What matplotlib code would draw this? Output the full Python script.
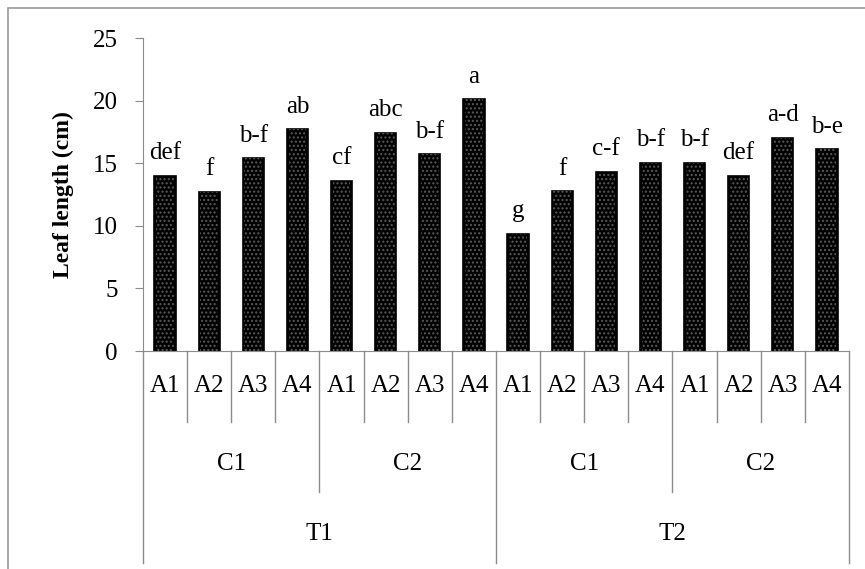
import matplotlib.pyplot as plt
from matplotlib.lines import Line2D
from matplotlib.patches import Rectangle

# data
a_labels = ['A1', 'A2', 'A3', 'A4'] * 4
c_labels = ['C1', 'C2', 'C1', 'C2']
t_labels = ['T1', 'T2']
leaf_length = [14.0, 12.7, 15.4, 17.7, 13.6, 17.4, 15.7, 20.1,
               9.35, 12.75, 14.3, 15.05, 15.05, 14.0, 17.05, 16.1]
letters = ['def', 'f', 'b-f', 'ab', 'cf', 'abc', 'b-f', 'a',
           'g', 'f', 'c-f', 'b-f', 'b-f', 'def', 'a-d', 'b-e']

plt.rcParams['font.family'] = ['Liberation Serif', 'DejaVu Serif']
grey = '#8c8c8c'
fs = 18

fig = plt.figure(figsize=(8.65, 5.69), dpi=100)
ax = fig.add_axes([0.1653, 0.3831, 0.8162, 0.5501])

x = list(range(len(leaf_length)))
ax.bar(x, leaf_length, width=0.48, color='black', edgecolor='black',
       linewidth=1.2, zorder=2)
# fine dots over the black bars
ax.bar(x, leaf_length, width=0.40, color='none', edgecolor='#5a5a5a',
       hatch='....', linewidth=0, zorder=3)

for xi, v, lab in zip(x, leaf_length, letters):
    ax.annotate(lab, (xi, v), xytext=(0, 12), textcoords='offset points',
                ha='center', va='baseline', fontsize=fs)

ax.set_xlim(-0.5, len(x) - 0.5)
ax.set_ylim(0, 25)
ax.set_yticks([0, 5, 10, 15, 20, 25])
ax.tick_params(axis='y', labelsize=fs, direction='out', length=6,
               color=grey, pad=12)
ax.set_xticks([])
for s in ['top', 'right']:
    ax.spines[s].set_visible(False)
for s in ['left', 'bottom']:
    ax.spines[s].set_color(grey)
ax.set_ylabel('Leaf length (cm)', fontsize=17, fontweight='bold', labelpad=14)

# hierarchical category axis
tr = ax.get_xaxis_transform()
def vline(xpos, y_end):
    ax.add_line(Line2D([xpos, xpos], [0, y_end], transform=tr, color=grey,
                       lw=1, clip_on=False))

for i, lab in enumerate(a_labels):
    ax.text(i, -0.112, lab, transform=tr, ha='center', va='center', fontsize=fs)
for i in range(len(a_labels) + 1):
    b = i - 0.5
    if i % 8 == 0:
        vline(b, -0.677)
    elif i % 4 == 0:
        vline(b, -0.45)
    else:
        vline(b, -0.227)
for j, lab in enumerate(c_labels):
    ax.text(j * 4 + 1.5, -0.362, lab, transform=tr, ha='center', va='center',
            fontsize=fs)
for k, lab in enumerate(t_labels):
    ax.text(k * 8 + 3.5, -0.586, lab, transform=tr, ha='center', va='center',
            fontsize=fs)

# outer chart frame (runs off the right and bottom edges)
fig.patches.append(Rectangle((8 / 865, -0.1), 1.0, 1.1 - 8 / 569,
                             transform=fig.transFigure, fill=False,
                             edgecolor='#9a9a9a', lw=1.2))

fig.savefig('out.png', dpi=100)
